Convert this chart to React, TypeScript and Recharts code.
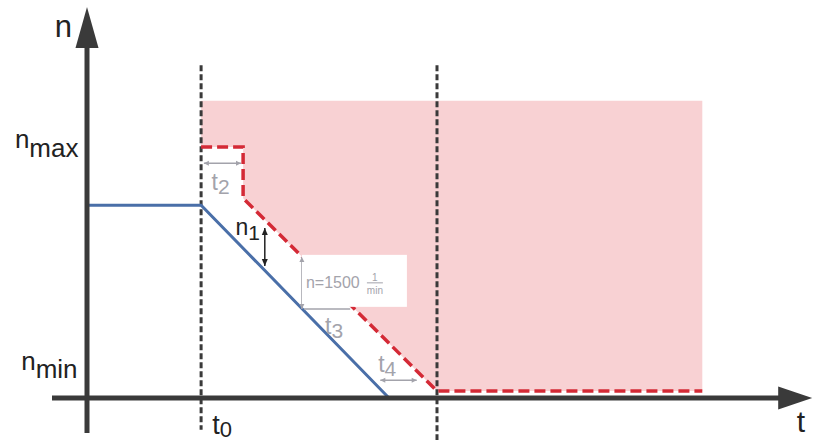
import { ComposedChart, Line, Area, XAxis, YAxis, ReferenceLine, ReferenceDot } from 'recharts'

// units: t and n both run 0..100 across the plot box
const blueT = [0, 16.3, 43]
const blueN = [55.1, 55.1, 0.3]
const redT = [16.3, 22.3, 22.3, 50, 87.9]
const redN = [71.7, 71.7, 57.1, 2, 2]
const zoneTop = 84.9
const t0 = 16.3
const tEnd = 50

const FONT = '"Liberation Sans", Arial, sans-serif'
const AXIS = '#3a3a3a'
const GRAY = '#a3a3ab'

const blueData = blueT.map((t, i) => ({ t, n: blueN[i] }))
const redData = redT.map((t, i) => ({ t, n: redN[i] }))
const zoneData = redT.map((t, i) => ({ t, range: [redN[i], zoneTop] }))

type HeadDir = 'up' | 'down' | 'left' | 'right'

// arrow head drawn at a reference dot, tip at (cx, cy)
const head = (dir: HeadDir, len: number, half: number, color: string) => (p: any) => {
  const { cx, cy } = p
  let pts = ''
  if (dir === 'up') pts = `${cx},${cy} ${cx - half},${cy + len} ${cx + half},${cy + len}`
  if (dir === 'down') pts = `${cx},${cy} ${cx - half},${cy - len} ${cx + half},${cy - len}`
  if (dir === 'right') pts = `${cx},${cy} ${cx - len},${cy - half} ${cx - len},${cy + half}`
  if (dir === 'left') pts = `${cx},${cy} ${cx + len},${cy - half} ${cx + len},${cy + half}`
  return <polygon points={pts} fill={color} />
}

const txt = (main: string, sub: string, size: number, subSize: number, dy: number, color: string) => (p: any) => (
  <text x={p.cx} y={p.cy} fill={color} fontSize={size} fontFamily={FONT}>
    {main}
    {sub ? <tspan dy={dy} fontSize={subSize}>{sub}</tspan> : null}
  </text>
)

// white label box with "n=1500 1/min", anchored at its top-left corner
const speedNote = (p: any) => {
  const { cx, cy } = p
  return (
    <g fontFamily={FONT} fill={GRAY}>
      <rect x={cx} y={cy} width={105} height={52} fill="#ffffff" />
      <text x={cx + 4} y={cy + 33} fontSize={16}>n=1500</text>
      <text x={cx + 73} y={cy + 26} fontSize={10} textAnchor="middle">1</text>
      <line x1={cx + 65} x2={cx + 81} y1={cy + 28} y2={cy + 28} stroke={GRAY} strokeWidth={1} />
      <text x={cx + 73} y={cy + 39} fontSize={10} textAnchor="middle">min</text>
    </g>
  )
}

const seg = (x1: number, y1: number, x2: number, y2: number) => [{ x: x1, y: y1 }, { x: x2, y: y2 }]

export default function App() {
  return (
    <div style={{ position: 'absolute', left: 0, top: 0, background: '#fff' }}>
      <ComposedChart width={813} height={443} margin={{ top: 48, right: 26, bottom: 45, left: 87 }}>
        <XAxis type="number" dataKey="t" domain={[0, 100]} hide />
        <YAxis type="number" domain={[0, 100]} hide />

        {/* permitted zone above the limit curve */}
        <Area data={zoneData} dataKey="range" type="linear" stroke="none" fill="#f8d1d3" fillOpacity={1} isAnimationActive={false} />

        {/* t0 and end-of-ramp markers */}
        <ReferenceLine segment={seg(t0, 95.1, t0, -9.1)} ifOverflow="visible" stroke={AXIS} strokeWidth={3} strokeDasharray="6 3" />
        <ReferenceLine segment={seg(tEnd, 95.1, tEnd, -12)} ifOverflow="visible" stroke={AXIS} strokeWidth={3} strokeDasharray="6 3" />

        <Line data={blueData} dataKey="n" type="linear" stroke="#4a6fa8" strokeWidth={3} dot={false} isAnimationActive={false} />
        <Line data={redData} dataKey="n" type="linear" stroke="#d42a36" strokeWidth={3.5} strokeDasharray="11 5" dot={false} isAnimationActive={false} />

        {/* axes */}
        <ReferenceLine segment={seg(-5, 0, 99, 0)} ifOverflow="visible" stroke={AXIS} strokeWidth={5} />
        <ReferenceLine segment={seg(0, -10, 0, 105)} ifOverflow="visible" stroke={AXIS} strokeWidth={5} />
        <ReferenceDot x={0} y={111.7} ifOverflow="visible" shape={head('up', 41, 11.5, AXIS)} />
        <ReferenceDot x={103.6} y={0} ifOverflow="visible" shape={head('right', 34, 11.5, AXIS)} />

        {/* speed annotation box */}
        <ReferenceDot x={30.7} y={40.9} ifOverflow="visible" shape={speedNote} />

        {/* dimension lines */}
        <ReferenceLine segment={seg(16.7, 67.1, 22, 67.1)} ifOverflow="visible" stroke={GRAY} strokeWidth={1.5} />
        <ReferenceLine segment={seg(30.7, 40.3, 30.7, 25.4)} ifOverflow="visible" stroke={GRAY} strokeWidth={1.5} />
        <ReferenceLine segment={seg(31, 25.4, 37.6, 25.4)} ifOverflow="visible" stroke={GRAY} strokeWidth={1.5} />
        <ReferenceLine segment={seg(41.9, 5.1, 47.1, 5.1)} ifOverflow="visible" stroke={GRAY} strokeWidth={1.5} />
        <ReferenceLine segment={seg(25.4, 48.6, 25.4, 37.7)} ifOverflow="visible" stroke="#222" strokeWidth={1.5} />
        <ReferenceDot x={25.4} y={48.6} ifOverflow="visible" shape={head('up', 7, 3, '#222')} />
        <ReferenceDot x={25.4} y={37.7} ifOverflow="visible" shape={head('down', 7, 3, '#222')} />
        <ReferenceDot x={16.7} y={67.1} ifOverflow="visible" shape={head('left', 5, 2.5, GRAY)} />
        <ReferenceDot x={22} y={67.1} ifOverflow="visible" shape={head('right', 5, 2.5, GRAY)} />
        <ReferenceDot x={30.7} y={40.3} ifOverflow="visible" shape={head('up', 5, 2.5, GRAY)} />
        <ReferenceDot x={30.7} y={25.4} ifOverflow="visible" shape={head('down', 5, 2.5, GRAY)} />
        <ReferenceDot x={41.9} y={5.1} ifOverflow="visible" shape={head('left', 5, 2.5, GRAY)} />
        <ReferenceDot x={47.1} y={5.1} ifOverflow="visible" shape={head('right', 5, 2.5, GRAY)} />

        {/* labels */}
        <ReferenceDot x={-4.6} y={103.1} ifOverflow="visible" shape={txt('n', '', 31, 0, 0, '#222')} />
        <ReferenceDot x={-10.3} y={71.4} ifOverflow="visible" shape={txt('n', 'max', 26, 26, 9, '#222')} />
        <ReferenceDot x={-9.4} y={8} ifOverflow="visible" shape={txt('n', 'min', 26, 26, 8, '#222')} />
        <ReferenceDot x={17.9} y={-10.3} ifOverflow="visible" shape={txt('t', '0', 27, 22, 3, '#222')} />
        <ReferenceDot x={101.4} y={-9.7} ifOverflow="visible" shape={txt('t', '', 30, 0, 0, '#222')} />
        <ReferenceDot x={17.8} y={59.4} ifOverflow="visible" shape={txt('t', '2', 23, 21, 4, GRAY)} />
        <ReferenceDot x={21.2} y={46.6} ifOverflow="visible" shape={txt('n', '1', 23, 21, 5, '#222')} />
        <ReferenceDot x={34} y={18.3} ifOverflow="visible" shape={txt('t', '3', 23, 21, 4, GRAY)} />
        <ReferenceDot x={41.6} y={7.4} ifOverflow="visible" shape={txt('t', '4', 23, 21, 4, GRAY)} />
      </ComposedChart>
    </div>
  )
}
